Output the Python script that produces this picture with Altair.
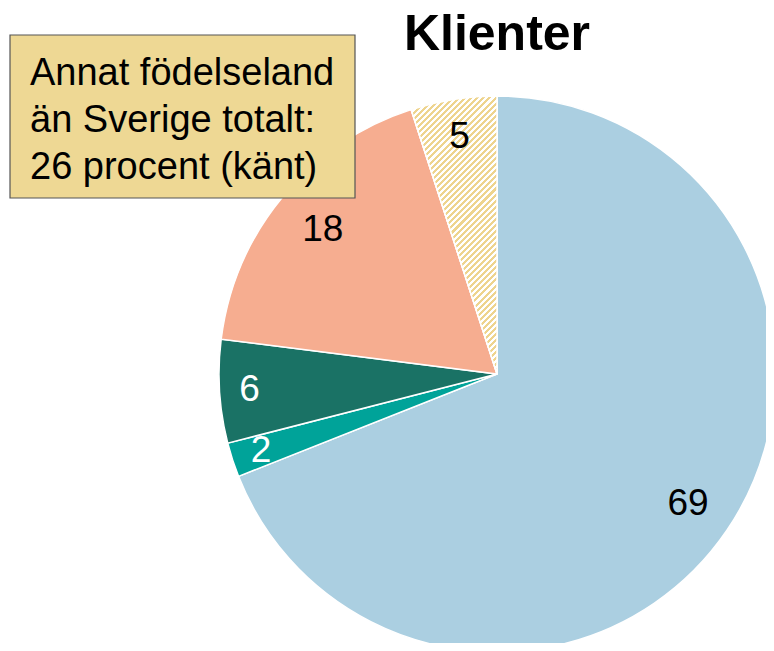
import altair as alt
import pandas as pd
import math

# ---- data ----
categories = ["Sverige", "Annat nordiskt", "Övriga Europa", "Utanför Europa", "Okänt"]
values = [69, 2, 6, 18, 5]
labels = ["69", "2", "6", "18", "5"]
title_text = "Klienter"
box_lines = ["Annat födelseland", "än Sverige totalt:", "26 procent (känt)"]

# ---- styles ----
slice_colors = ["#abcfe1", "#00a399", "#1a7265", "#f6ad90", "#ffffff"]
label_colors = ["#000000", "#ffffff", "#ffffff", "#000000", "#000000"]
label_radius = [231, 248, 248, 226, 240]        # px from centre
hatch_color = "#eed48e"
box_fill = "#eed894"

cx, cy = 489, 366
R = 278

starts, ends, mids = [], [], []
acc = 0
for v in values:
    starts.append(acc)
    ends.append(acc + v)
    mids.append(acc + v / 2)
    acc += v
df = pd.DataFrame({"cat": categories, "value": values, "label": labels,
                   "start": starts, "end": ends, "mid": mids,
                   "lr": label_radius})

theta_scale = alt.Scale(domain=[0, 100])

base = alt.Chart(df)

arcs = base.mark_arc(stroke="white", strokeWidth=1.5, radius=R).encode(
    theta=alt.Theta("start:Q", scale=theta_scale),
    theta2="end:Q",
    color=alt.Color("cat:N", scale=alt.Scale(domain=categories, range=slice_colors), legend=None),
    x=alt.value(cx), y=alt.value(cy),
)

# hatch pattern approximated with a striped linear gradient
w_bb = R * math.sin(math.radians(360 * values[-1] / 100))
h_bb = R
k = h_bb / w_bb
s = (1 + k) / (1 + k * k)
n_stripes = int((w_bb + h_bb) / 6)
stops = []
for i in range(n_stripes):
    a = i / n_stripes
    b = (i + 0.5) / n_stripes
    c = (i + 1) / n_stripes
    stops += [alt.GradientStop(offset=a, color=hatch_color),
              alt.GradientStop(offset=b, color=hatch_color),
              alt.GradientStop(offset=b, color="#ffffff"),
              alt.GradientStop(offset=c, color="#ffffff")]
grad = alt.LinearGradient(gradient="linear", stops=stops, x1=0, y1=0, x2=s, y2=s * k)

hatch = base.transform_filter(alt.datum.cat == categories[-1]).mark_arc(
    fill=grad, radius=R, stroke="white", strokeWidth=1.5
).encode(
    theta=alt.Theta("start:Q", scale=theta_scale),
    theta2="end:Q",
    x=alt.value(cx), y=alt.value(cy),
)

texts = base.mark_text(font="Liberation Sans", fontSize=37, align="center", baseline="middle").encode(
    theta=alt.Theta("mid:Q", scale=theta_scale),
    radius=alt.Radius("lr:Q", scale=None),
    text="label:N",
    color=alt.Color("cat:N", scale=alt.Scale(domain=categories, range=label_colors), legend=None),
    x=alt.value(cx), y=alt.value(cy),
)

title = alt.Chart(pd.DataFrame({"t": [title_text]})).mark_text(
    font="Liberation Sans", fontSize=50, fontWeight="bold", align="center", baseline="alphabetic", color="black"
).encode(text="t:N", x=alt.value(cx), y=alt.value(42))

box = alt.Chart(pd.DataFrame({"a": [1]})).mark_rect(
    fill=box_fill, stroke="#555555", strokeWidth=1.2
).encode(x=alt.value(2), x2=alt.value(347), y=alt.value(27), y2=alt.value(190))

box_text = alt.Chart(pd.DataFrame({"t": [box_lines]})).mark_text(
    font="Liberation Sans", fontSize=38, align="left", baseline="alphabetic", lineHeight=47, color="black"
).encode(text="t", x=alt.value(22), y=alt.value(77))

chart = alt.layer(arcs, hatch, texts, box, box_text, title).resolve_scale(color="independent").properties(
    width=758, height=635, autosize=alt.AutoSizeParams(type="none"), padding=0
).configure_view(stroke=None)

chart.save("out.html", embed_options={"renderer": "svg", "actions": False})
